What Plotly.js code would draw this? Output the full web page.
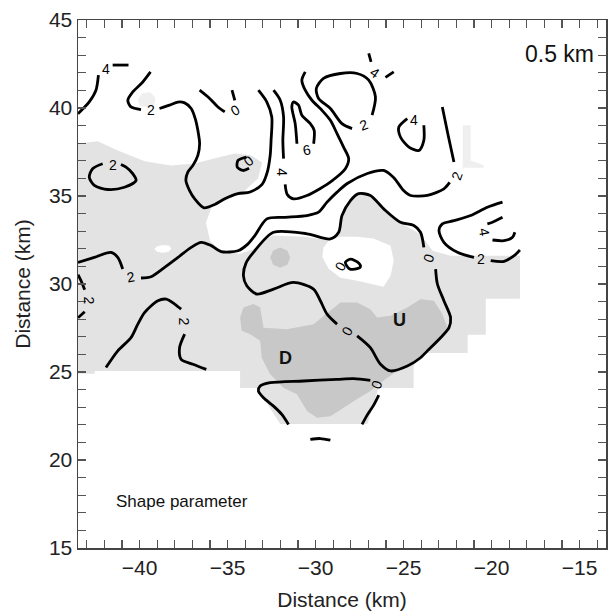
<!DOCTYPE html>
<html>
<head>
<meta charset="utf-8">
<script src="https://cdn.plot.ly/plotly-3.0.1.min.js"></script>
<style>html,body{margin:0;padding:0;background:#fff;}#chart{width:613px;height:615px;}</style>
</head>
<body>
<div id="chart"></div>
<script>
// ---------- DATA (km) ----------
// Contour lines of the shape parameter, one array pair per level (segments separated by null)
const contour0X = [-36.59,-36.02,-35.55,-35.16,null,-34.59,-34.75,null,
  -33.93,-34.41,-34.45,-34.12,-33.78,null,
  -23.18,-23.08,-22.71,-22.33,-22.42,-22.90,-23.65,-24.04,-24.79,-25.74,-26.31,-26.89,-27.64,null,
  -28.78,-29.35,-29.73,-30.12,-31.26,-32.39,-33.34,-33.91,-34.10,-33.95,-33.53,-32.39,-30.49,-29.16,-28.69,-28.50,-28.02,-27.55,-26.89,-26.13,-25.18,-24.42,-24.04,-23.85,null,
  -28.31,-28.02,-27.57,-27.45,-27.64,-28.08,-28.31,null,
  -31.54,-31.92,-32.39,-32.96,-33.25,-33.15,-32.58,-30.69,-28.78,-27.84,-26.89,null,
  -26.41,-26.70,-27.07,-27.36,null,
  -30.30,-29.73,-29.16];
const contour0Y = [41.01,40.54,40.06,39.78,null,40.44,41.01,null,
  37.21,37.02,36.64,36.45,36.57,null,
  30.85,30.00,29.05,28.09,27.52,26.95,26.20,25.81,25.34,25.06,25.44,26.38,27.05,null,
  27.72,28.29,29.05,29.71,30.09,29.71,29.43,29.90,30.47,31.20,31.80,32.94,32.85,32.56,32.94,33.89,34.74,35.13,35.03,34.27,33.51,33.32,32.94,32.08,null,
  31.23,31.41,31.21,30.98,30.87,30.87,31.23,null,
  22.02,22.59,23.06,23.54,23.92,24.20,24.39,24.49,24.58,24.62,24.53,null,
  23.69,23.12,22.55,22.02,null,
  21.17,21.22,21.13];

const contour2X = [-39.38,-39.82,-40.39,-40.67,-40.49,-39.92,null,
  -38.87,-38.30,-37.82,-37.44,-37.07,-36.84,-36.69,-36.59,-36.69,-36.97,-37.26,-37.37,-37.16,-36.87,-36.34,-35.73,-35.16,-34.41,-33.72,-33.04,-32.75,-32.58,-32.53,-32.49,-32.77,-33.25,null,
  -41.06,-40.77,-40.39,-40.20,-40.86,-41.81,-42.57,-42.86,-42.67,-42.10,null,
  -26.79,-26.60,-26.98,-27.64,-28.59,-29.55,-29.96,-29.83,-29.16,-28.50,-27.93,null,
  -43.5,-42.57,-41.63,-41.24,-40.96,null,
  -39.92,-39.35,-38.58,-37.82,-37.07,-36.50,-35.93,-35.36,-34.41,-33.84,-33.45,-32.77,-31.82,-30.49,-29.83,-29.35,-28.78,-28.20,-27.06,-26.14,-25.57,-25.00,-24.61,-23.65,-22.71,-22.38,null,
  -22.14,-22.47,-22.80,null,
  -43.5,-43.33,-43.12,null,-43.12,-43.5,null,
  -41.91,-41.24,-40.49,-40.10,-39.72,-38.96,-38.49,-38.01,-37.64,null,
  -37.44,-37.73,-37.64,-36.97,-36.21,null,
  -19.38,-20.24,-21.19,-22.14,-22.80,-22.99,-22.71,-21.94,-21.00,null,
  -20.05,-19.29,-18.72,-18.39];
const contour2Y = [42.05,41.48,40.91,40.44,40.06,39.91,null,
  39.97,40.16,40.34,40.29,39.97,39.40,38.73,37.97,37.31,36.74,36.36,35.88,35.31,34.84,34.33,34.52,34.84,35.13,35.23,35.66,36.34,37.31,38.16,39.49,40.34,41.01,null,
  36.79,36.64,36.27,35.88,35.50,35.37,35.60,36.07,36.55,36.83,null,
  39.59,40.63,41.58,41.96,41.96,41.68,41.11,40.54,39.97,39.11,38.83,null,
  31.23,31.51,31.80,31.51,30.85,null,
  30.34,30.41,30.94,31.51,32.08,32.37,32.18,31.84,31.89,32.28,32.75,33.70,33.79,33.89,34.08,34.65,35.22,35.71,36.28,36.45,36.05,35.31,35.03,35.03,35.41,35.77,null,
  36.93,38.45,40.06,null,
  30.53,30.19,29.67,null,28.42,28.08,null,
  25.25,26.20,26.95,27.72,28.38,29.05,29.14,28.86,28.57,null,
  27.15,26.38,25.72,25.44,25.15,null,
  34.65,34.36,33.89,33.60,33.42,33.03,32.37,31.80,31.51,null,
  31.33,31.29,31.61,31.93];

const contour4X = [-43.5,-42.86,-42.48,-42.34,null,-41.53,-40.63,null,
  -32.39,-32.01,-31.82,-31.86,-31.82,null,
  -31.73,-31.61,-31.26,-30.49,-29.73,-29.11,-28.31,-28.12,-28.41,-28.78,-29.16,-29.64,-30.21,-30.59,-30.78,-30.59,null,
  -26.98,-26.85,null,-26.03,-25.56,null,
  -23.85,-23.85,-24.13,-24.70,-25.18,-25.27,-24.79,null,
  -19.38,-19.95,-20.24,null,-19.95,-19.29,-18.81,-18.68];
const contour4Y = [39.68,40.35,41.01,41.87,null,42.44,42.44,null,
  41.01,40.44,39.49,38.16,37.12,null,
  35.66,35.09,34.84,35.03,35.43,35.83,36.55,37.12,37.78,38.54,39.30,39.87,40.44,41.01,41.58,42.05,null,
  43.10,42.62,null,41.74,42.05,null,
  39.02,38.16,37.59,37.78,38.35,38.92,39.40,null,
  33.79,33.51,33.42,null,32.50,32.46,32.65,32.94];

const contour6X = [-31.06,-31.16,-31.35,-31.26,-30.97,-30.78,-30.30,-30.08,-30.11];
const contour6Y = [37.97,39.11,40.06,40.34,40.16,39.59,39.11,38.73,37.97];

// Contour labels
const labelText = ["4","2","0","2","0","4","6","2","4","4","2","2","2","2","0","0","0","0","2","4"];
const labelX = [-41.91,-39.38,-34.56,-41.53,-33.80,-31.92,-30.49,-27.27,-26.60,-24.42,-21.94,-40.49,-42.86,-37.48,-28.21,-23.56,-28.59,-26.54,-20.62,-20.43];
const labelY = [42.19,39.87,39.91,36.79,36.97,36.36,37.59,39.02,42.00,39.30,36.17,30.37,29.05,27.87,27.34,31.46,31.04,24.26,31.42,32.94];

// Shaded regions (light grey area, white holes in it, dark grey area, faint patches)
const lightX = [-43.5,-42.38,-41.24,-39.71,-38.22,-36.86,-35.55,-34.58,-33.67,-33.04,-33.27,-34.01,-34.98,-35.89,-36.23,-36.00,-35.37,-34.29,-33.44,-32.47,-30.59,-29.16,-28.71,-28.48,-28.02,-27.45,-26.77,-26.03,-25.06,-24.04,-23.35,-22.33,-18.39,-18.39,-20.33,-20.33,-21.36,-21.36,-24.43,-24.43,-26.43,-27.06,-32.01,-33.32,-34.29,-34.29,-42.55,-42.55,-43.5];
const lightY = [37.99,38.11,37.59,36.97,36.74,36.85,37.19,37.42,37.31,36.91,36.00,35.31,34.80,34.40,33.49,32.46,31.84,31.72,32.01,32.75,32.69,32.46,32.92,33.89,34.74,35.09,34.91,34.17,33.43,32.81,31.89,31.61,31.61,29.16,29.16,27.11,27.11,26.08,26.08,24.09,24.09,22.04,22.04,24.09,24.09,25.06,25.06,24.90,24.90];
const holeX = [-39.16,-39.00,-38.68,-38.30,-38.20,-38.36,-38.68,-39.00,null,
  -29.55,-29.16,-28.59,-27.64,-26.70,-25.74,-25.56,-25.74,-26.14,-26.89,-27.64,-28.59,-29.26,-29.62];
const holeY = [31.99,32.15,32.22,32.17,32.00,31.83,31.77,31.83,null,
  32.08,32.58,32.69,32.69,32.58,32.18,31.33,30.47,29.84,30.01,30.19,30.36,30.87,31.55];
const darkX = [-34.29,-34.10,-33.53,-33.15,-32.96,-31.63,-30.12,-29.16,-28.59,-27.64,-26.89,-26.50,-25.74,-24.79,-24.04,-23.28,-22.80,-22.51,-23.08,-24.04,-24.79,-25.93,-26.89,-27.64,-28.41,-29.16,-29.92,-30.49,-31.06,-31.83,-32.58,-33.06,-33.15,-33.72,-34.20,null,
  -31.44,-31.61,-32.01,-32.41,-32.58,-32.41,-32.01,-31.61];
const darkY = [28.09,28.66,28.86,28.66,27.52,27.43,27.72,28.48,28.95,28.95,28.57,28.09,28.19,28.66,29.14,29.05,28.29,27.52,26.77,25.81,25.44,24.68,23.92,23.46,22.97,22.49,22.40,22.78,23.73,24.11,24.87,25.81,26.77,27.15,27.34,null,
  31.50,31.90,32.07,31.90,31.50,31.10,30.93,31.10];
const faintX = [-21.64,-21.19,-21.19,-20.45,-20.45,-21.64,null,-40.00,-40.10,-39.85,-39.40,-39.10,-39.15,-39.50];
const faintY = [39.02,39.02,37.02,36.75,36.60,36.60,null,40.10,40.50,40.85,40.90,40.60,40.20,40.05];

// Region letters
const regionText = ["D","U"];
const regionX = [-31.73,-25.22];
const regionY = [25.78,27.96];

// Axis tick labels (every 5 km; unlabelled ticks every 1 km)
const xTickLabels = [-40,-35,-30,-25,-20,-15];
const yTickLabels = [15,20,25,30,35,40,45];

// ---------- STYLE ----------
const labelAngle = [0,0,-30,0,-40,90,-10,-20,35,0,-70,-10,90,90,-60,-70,-60,-70,0,80];
const FONT = "Liberation Sans, Arial, Helvetica, sans-serif";
const LIGHT = "#e3e3e3", DARK = "#c8c8c8";

function fillTrace(x, y, color) {
  return {x: x, y: y, type: "scatter", mode: "lines", fill: "toself", fillcolor: color,
          line: {width: 0, color: color}, hoverinfo: "skip", showlegend: false};
}
function lineTrace(x, y) {
  return {x: x, y: y, type: "scatter", mode: "lines",
          line: {color: "#000", width: 2.8, shape: "spline", smoothing: 0.8},
          connectgaps: false, hoverinfo: "skip", showlegend: false};
}

const traces = [
  fillTrace(lightX, lightY, LIGHT),
  fillTrace(faintX, faintY, "#efefef"),
  fillTrace(holeX, holeY, "#ffffff"),
  fillTrace(darkX, darkY, DARK),
  lineTrace(contour0X, contour0Y),
  lineTrace(contour2X, contour2Y),
  lineTrace(contour4X, contour4Y),
  lineTrace(contour6X, contour6Y)
];

const annotations = [];
labelText.forEach((t, i) => annotations.push({
  x: labelX[i], y: labelY[i], xref: "x", yref: "y", text: t, showarrow: false,
  textangle: labelAngle[i], font: {family: FONT, size: 14, color: "#000"}
}));
regionText.forEach((t, i) => annotations.push({
  x: regionX[i], y: regionY[i], xref: "x", yref: "y", text: "<b>" + t + "</b>", showarrow: false,
  font: {family: FONT, size: 18, color: "#111"}
}));
annotations.push({x: 0.982, y: 0.935, xref: "paper", yref: "paper", xanchor: "right", yanchor: "middle",
  text: "0.5 km", showarrow: false, font: {family: FONT, size: 23, color: "#111"}});
annotations.push({x: 0.068, y: 0.088, xref: "paper", yref: "paper", xanchor: "left", yanchor: "middle",
  text: "Shape parameter", showarrow: false, font: {family: FONT, size: 17, color: "#111"}});

// full tick set: every km, labelled every 5 km
function ticks(lo, hi, labelled) {
  const vals = [], text = [];
  for (let v = Math.ceil(lo); v <= Math.floor(hi); v++) {
    vals.push(v);
    text.push(labelled.indexOf(v) >= 0 ? (v < 0 ? "\u2212" + Math.abs(v) : String(v)) : "");
  }
  return {vals, text};
}

function axis(range, labelled, title, standoff) {
  const t = ticks(range[0], range[1], labelled);
  return {
    range: range, tickmode: "array", tickvals: t.vals, ticktext: t.text,
    ticks: "inside", ticklen: 8, tickwidth: 1.3, tickcolor: "#555",
    showline: true, linecolor: "#444", linewidth: 1.5, mirror: "allticks",
    showgrid: false, zeroline: false, fixedrange: true,
    tickfont: {family: FONT, size: 21, color: "#222"},
    title: {text: title, font: {family: FONT, size: 21, color: "#222"}, standoff: standoff},
    automargin: false
  };
}

const layout = {
  width: 613, height: 615,
  margin: {l: 78, r: 7, t: 20, b: 67},
  paper_bgcolor: "#fff", plot_bgcolor: "#fff",
  xaxis: axis([-43.5, -13.5], xTickLabels, "Distance (km)", 14),
  yaxis: axis([15, 45], yTickLabels, "Distance (km)", 12),
  annotations: annotations,
  showlegend: false
};

Plotly.newPlot("chart", traces, layout, {displayModeBar: false, staticPlot: true});
</script>
</body>
</html>
